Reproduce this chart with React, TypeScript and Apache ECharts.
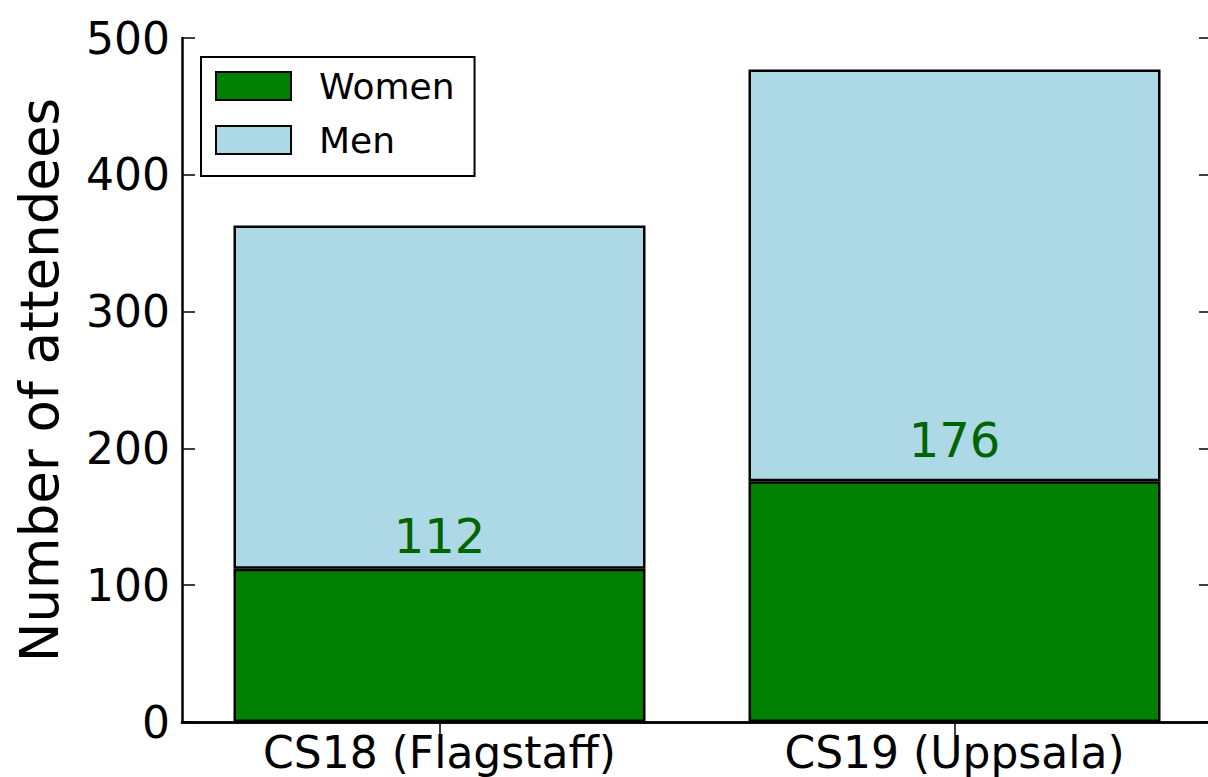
import React, { useEffect, useRef } from "react";
import * as echarts from "echarts";

const categories = ["CS18 (Flagstaff)", "CS19 (Uppsala)"];
const women = [112, 176];
const men = [251, 301];
const yTicks = { min: 0, max: 500, interval: 100 };
// annotation heights: the value labels sit at 1.1 x the women count
const labelHeightFactor = 1.1;

const FONT = "DejaVu Sans";

export default function App() {
  const ref = useRef<HTMLDivElement>(null);
  useEffect(() => {
    document.body.style.margin = "0";
    const chart = echarts.init(ref.current!, null, { renderer: "svg" });
    const axisLine = { show: true, lineStyle: { color: "#000", width: 2.5 } };
    const tick = { show: true, inside: true, length: 13, lineStyle: { color: "#000", width: 1.5 } };
    chart.setOption({
      animation: false,
      backgroundColor: "#fff",
      grid: {
        left: 182,
        top: 38,
        width: 1030,
        height: 684,
        containLabel: false,
        outerBoundsMode: "none",
      },
      legend: {
        left: 201,
        top: 57,
        orient: "vertical",
        itemWidth: 75,
        itemHeight: 28,
        itemGap: 18,
        borderColor: "#000",
        borderWidth: 2,
        borderRadius: 0,
        padding: [11, 20, 18, 14],
        textStyle: { fontFamily: FONT, fontSize: 36, color: "#000", padding: [0, 0, 0, 23] },
        data: [
          { name: "Women", icon: "rect" },
          { name: "Men", icon: "rect" },
        ],
      },
      xAxis: [
        {
          type: "category",
          data: categories,
          position: "bottom",
          axisLine,
          axisTick: { ...tick, alignWithLabel: true },
          axisLabel: { fontFamily: FONT, fontSize: 44, color: "#000", margin: 8 },
          splitLine: { show: false },
        },
        {
          type: "category",
          data: categories,
          position: "top",
          axisLine,
          axisTick: { ...tick, alignWithLabel: true },
          axisLabel: { show: false },
          splitLine: { show: false },
        },
      ],
      yAxis: [
        {
          type: "value",
          ...yTicks,
          position: "left",
          name: "Number of attendees",
          nameLocation: "middle",
          nameRotate: 90,
          nameGap: 116,
          nameTextStyle: { fontFamily: FONT, fontSize: 53, color: "#000" },
          axisLine,
          axisTick: tick,
          axisLabel: { fontFamily: FONT, fontSize: 44, color: "#000", margin: 12 },
          splitLine: { show: false },
        },
        {
          type: "value",
          ...yTicks,
          position: "right",
          axisLine,
          axisTick: tick,
          axisLabel: { show: false },
          splitLine: { show: false },
        },
      ],
      series: [
        {
          name: "Women",
          type: "bar",
          stack: "total",
          barWidth: "80%",
          data: women,
          itemStyle: { color: "#008000", borderColor: "#000", borderWidth: 2.5 },
          z: 2,
        },
        {
          name: "Men",
          type: "bar",
          stack: "total",
          barWidth: "80%",
          data: men,
          itemStyle: { color: "#add8e6", borderColor: "#000", borderWidth: 2.5 },
          z: 1,
        },
        {
          name: "labels",
          type: "scatter",
          symbolSize: 0,
          silent: true,
          itemStyle: { opacity: 1 },
          data: women.map((v, i) => ({ value: [categories[i], v * labelHeightFactor], count: v })),
          label: {
            show: true,
            position: "top",
            distance: 0,
            offset: [0, 7],
            opacity: 1,
            fontFamily: FONT,
            fontSize: 48,
            color: "#006400",
            formatter: (p: any) => String(p.data.count),
          },
          z: 5,
        },
      ],
    });
    return () => chart.dispose();
  }, []);
  return <div ref={ref} style={{ position: "absolute", left: 0, top: 0, width: 1208, height: 777 }} />;
}
